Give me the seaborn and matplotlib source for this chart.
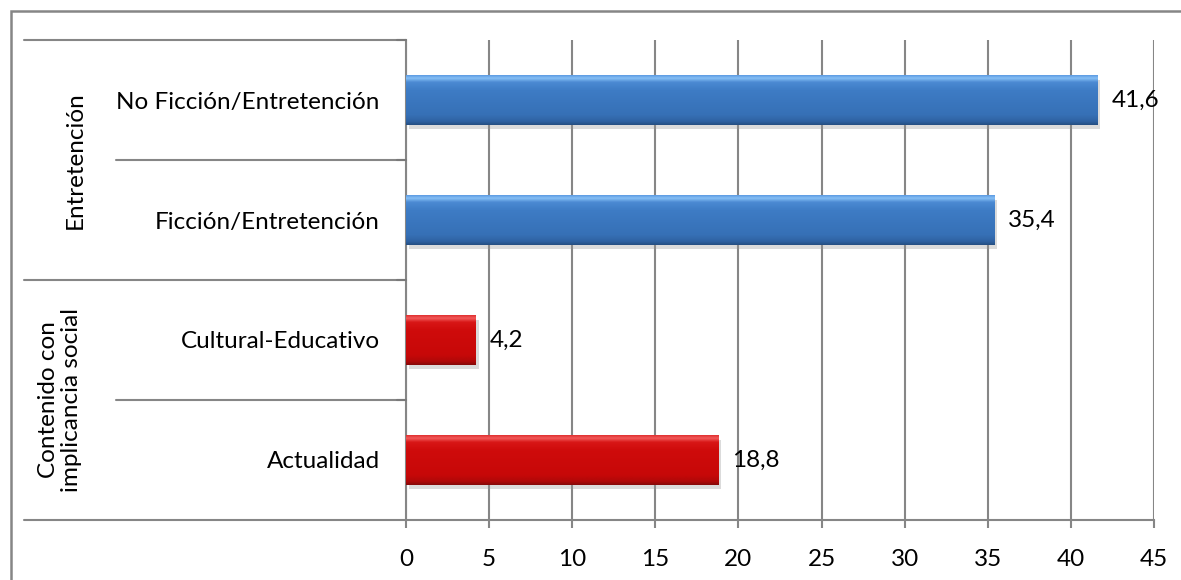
import numpy as np
import pandas as pd
import matplotlib
matplotlib.use("Agg")
import matplotlib.pyplot as plt
import matplotlib.patheffects as pe
from matplotlib.patches import Rectangle
from matplotlib.colors import LinearSegmentedColormap
import matplotlib.transforms as mtransforms
import seaborn as sns

# ---- data ----
categories = ["No Ficción/Entretención", "Ficción/Entretención",
              "Cultural-Educativo", "Actualidad"]
values = [41.6, 35.4, 4.2, 18.8]
groups = ["Entretención", "Entretención",
          "Contenido con\nimplicancia social", "Contenido con\nimplicancia social"]
xticks = [0, 5, 10, 15, 20, 25, 30, 35, 40, 45]

sns.set_theme(style="white")
plt.rcParams["font.family"] = ["Lato", "DejaVu Sans"]

W, H = 1181, 580
FS = 17.5
fig = plt.figure(figsize=(W / 100, H / 100), dpi=100)
ax = fig.add_axes([406 / W, 1 - 520 / H, (1154 - 406) / W, (520 - 40) / H])

df = pd.DataFrame({"cat": categories, "val": values})
pal = {categories[0]: "#3a78c2", categories[1]: "#3a78c2",
       categories[2]: "#cc0a0a", categories[3]: "#cc0a0a"}
sns.barplot(data=df, y="cat", x="val", hue="cat", palette=pal, order=categories,
            orient="h", width=0.41, legend=False, ax=ax, saturation=1,
            edgecolor="none", zorder=3)

grads = {
    "#3a78c2": [(0.0, "#5d9be2"), (0.06, "#86bff5"), (0.14, "#4b8ad3"),
                (0.3, "#3e7cc5"), (0.8, "#3670b6"), (0.93, "#2f62a2"), (1.0, "#254f82")],
    "#cc0a0a": [(0.0, "#e03030"), (0.06, "#f25a5a"), (0.14, "#d81616"),
                (0.3, "#cf0b0b"), (0.8, "#c70808"), (0.93, "#b00808"), (1.0, "#850a0a")],
}
for bar in list(ax.patches):
    fc = matplotlib.colors.to_hex(bar.get_facecolor())
    cmap = LinearSegmentedColormap.from_list("g", grads.get(fc, [fc, fc]))
    x0, y0 = bar.get_x(), bar.get_y()
    w, h = bar.get_width(), bar.get_height()
    bar.set_path_effects([pe.SimplePatchShadow(offset=(2, -3), shadow_rgbFace="#999999", alpha=0.35),
                          pe.Normal()])
    grad = np.linspace(0, 1, 128).reshape(-1, 1)
    im = ax.imshow(grad, extent=(x0, x0 + w, y0 + h, y0), cmap=cmap, aspect="auto",
                   zorder=4, interpolation="bilinear")
    im.set_clip_path(bar)

for cont in ax.containers:
    vals = [p.get_width() for p in cont]
    ax.bar_label(cont, labels=[f"{v:.1f}".replace(".", ",") for v in vals],
                 padding=10, fontsize=FS, color="#000000", zorder=6)

ax.set_xlim(0, 45)
ax.set_ylim(len(categories) - 0.5, -0.5)
ax.set_xticks(xticks)
ax.set_xticklabels([str(t) for t in xticks], fontsize=FS, color="#000000")
ax.set_xlabel("")
ax.set_ylabel("")
ax.tick_params(axis="x", length=6, width=1.5, color="#868686", pad=15, bottom=True)
ax.tick_params(axis="y", length=0, pad=19, labelsize=FS, labelcolor="#000000")
ax.grid(axis="x", color="#868686", linewidth=1.5, zorder=0)
ax.grid(axis="y", visible=False)
for s in ["top", "right"]:
    ax.spines[s].set_visible(False)
for s in ["left", "bottom"]:
    ax.spines[s].set_color("#868686")
    ax.spines[s].set_linewidth(1.5)

# group / category separators in the label area
trans = mtransforms.blended_transform_factory(ax.transAxes, ax.transData)
for yb in [-0.5, 1.5, 3.5]:
    ax.plot([-0.5107, 0.0], [yb, yb], transform=trans, color="#868686",
            linewidth=1.5, clip_on=False, zorder=5)
for yb in [0.5, 2.5]:
    ax.plot([-0.3877, 0.0], [yb, yb], transform=trans, color="#868686",
            linewidth=1.5, clip_on=False, zorder=5)
for yb in [-0.5, 0.5, 1.5, 2.5]:
    ax.plot([-0.012, 0.0], [yb, yb], transform=trans, color="#7a7a7a",
            linewidth=1.5, clip_on=False, zorder=5)

# group labels
uniq = []
for g in groups:
    if g not in uniq:
        uniq.append(g)
for g in uniq:
    idx = [i for i, gg in enumerate(groups) if gg == g]
    yc = (min(idx) + max(idx)) / 2
    xc = -0.4425 if "\n" not in g else -0.4625
    ax.text(xc, yc, g, transform=trans, rotation=90, ha="center", va="center",
            fontsize=FS, color="#000000", linespacing=1.1)

# outer frame
fig.patches.append(Rectangle((11 / W, -0.05), 1.2, 1 - 11 / H + 0.05,
                             transform=fig.transFigure, fill=False,
                             edgecolor="#868686", linewidth=1.8, zorder=0))

fig.savefig("out.png", dpi=100)
